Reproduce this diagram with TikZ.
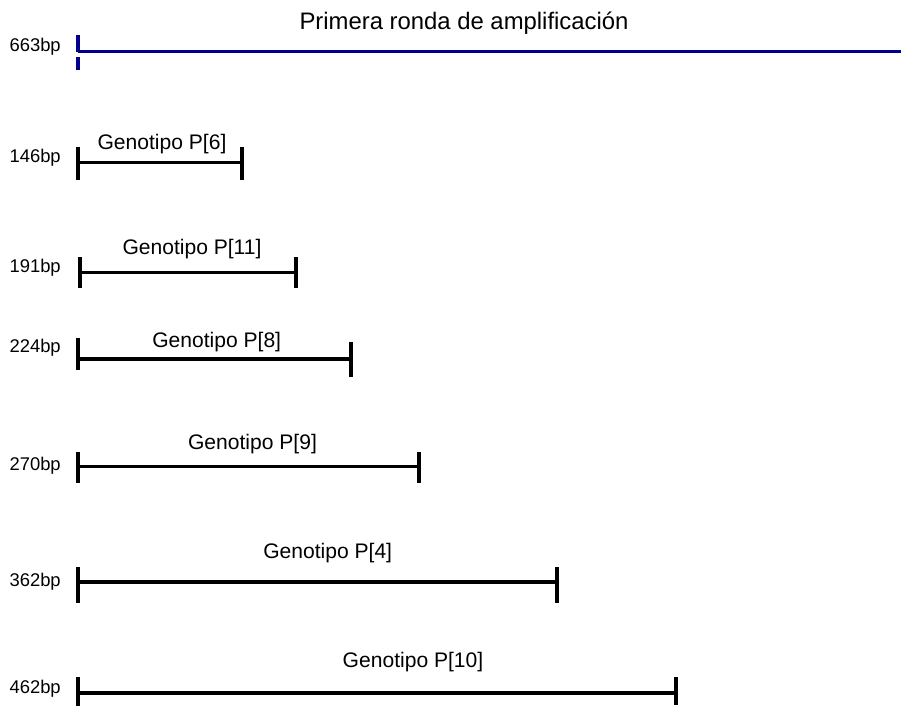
\documentclass[tikz,border=0pt]{standalone}
\usepackage{fontspec}
\setmainfont{Liberation Sans}
\usetikzlibrary{positioning}
\definecolor{ampblue}{RGB}{0,0,140}

\begin{document}
\begin{tikzpicture}[x=0.75pt,y=-0.75pt,
	bar/.style={line width=2.3pt},
	ampbar/.style={line width=2.3pt,color=ampblue},
	sizelabel/.style={anchor=base east,inner sep=0pt,font=\fontsize{13.8}{16}\selectfont},
	genolabel/.style={anchor=base,inner sep=0pt,font=\fontsize{15.8}{18}\selectfont},
	titlelabel/.style={anchor=base,inner sep=0pt,font=\fontsize{17.9}{21}\selectfont}]
	\useasboundingbox (0,0) rectangle (901,706);
	% first round product
	\node[titlelabel] (title) at (464,30) {Primera ronda de amplificación};
	\node[sizelabel] (s663) at (61,51.7) {663bp};
	\coordinate (amp-a) at (78,51.7);
	\coordinate (amp-b) at (901,51.7);
	\draw[ampbar] (amp-a) -- (amp-b);
	\draw[ampbar] (78,35) -- (78,51.7);
	\draw[ampbar] (78,57) -- (78,70);
	% genotypes
	\node[sizelabel] (s146) at (61,163) {146bp};
	\node[genolabel] (g6) at (162,150) {Genotipo P[6]};
	\coordinate (p6-a) at (78,162.5);
	\coordinate (p6-b) at (242,162.5);
	\draw[bar] (p6-a) -- (p6-b);
	\draw[bar] (78,147) -- (78,180);
	\draw[bar] (242,147) -- (242,180);

	\node[sizelabel] (s191) at (61,273) {191bp};
	\node[genolabel] (g11) at (192,255) {Genotipo P[11]};
	\coordinate (p11-a) at (80,272.3);
	\coordinate (p11-b) at (296,272.3);
	\draw[bar] (p11-a) -- (p11-b);
	\draw[bar] (80,257) -- (80,288);
	\draw[bar] (296,257) -- (296,288);

	\node[sizelabel] (s224) at (61,353) {224bp};
	\node[genolabel] (g8) at (216.7,348) {Genotipo P[8]};
	\coordinate (p8-a) at (78,359);
	\coordinate (p8-b) at (351,359);
	\draw[bar] (p8-a) -- (p8-b);
	\draw[bar] (78,338) -- (78,370);
	\draw[bar] (351,342) -- (351,377);

	\node[sizelabel] (s270) at (61,470) {270bp};
	\node[genolabel] (g9) at (252.5,450) {Genotipo P[9]};
	\coordinate (p9-a) at (78,466.7);
	\coordinate (p9-b) at (419,466.7);
	\draw[bar] (p9-a) -- (p9-b);
	\draw[bar] (78,452) -- (78,483);
	\draw[bar] (419,452) -- (419,483);

	\node[sizelabel] (s362) at (61,586) {362bp};
	\node[genolabel] (g4) at (327.7,558) {Genotipo P[4]};
	\coordinate (p4-a) at (78,582);
	\coordinate (p4-b) at (557,582);
	\draw[bar] (p4-a) -- (p4-b);
	\draw[bar] (78,567) -- (78,603);
	\draw[bar] (557,567) -- (557,603);

	\node[sizelabel] (s462) at (61,693) {462bp};
	\node[genolabel] (g10) at (413,667) {Genotipo P[10]};
	\coordinate (p10-a) at (78,693);
	\coordinate (p10-b) at (676,693);
	\draw[bar] (p10-a) -- (p10-b);
	\draw[bar] (78,677) -- (78,706);
	\draw[bar] (676,677) -- (676,705);
\end{tikzpicture}
\end{document}
